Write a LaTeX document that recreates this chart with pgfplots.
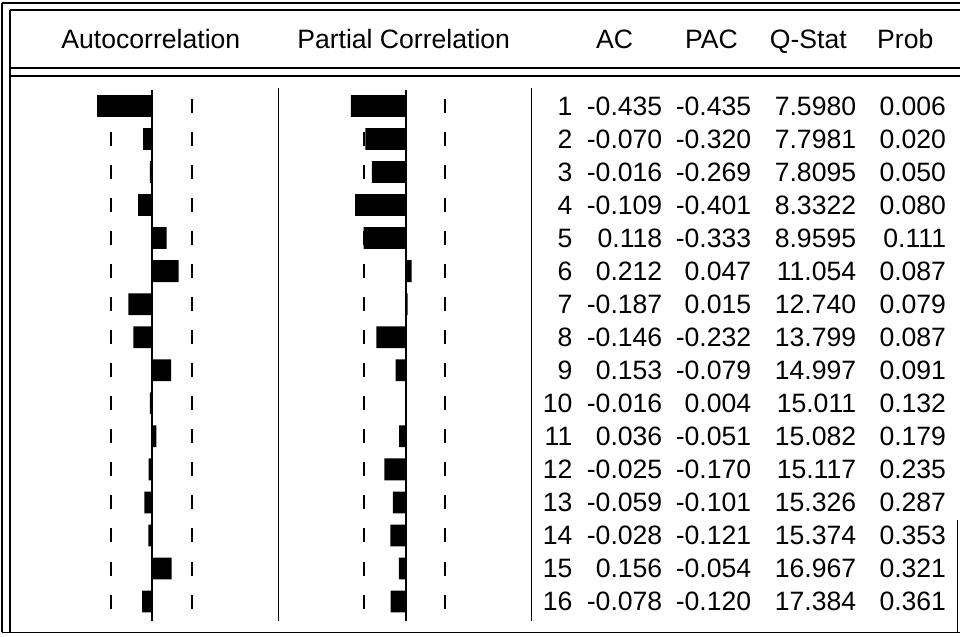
\documentclass[border=0pt]{standalone}
\usepackage{pgfplots}
\pgfplotsset{compat=1.18}
\usepackage{pgfplotstable}
\usepackage{fontspec}
\setmainfont{Liberation Sans}

\pgfplotstableread{
lag ac pac q prob
1 -0.435 -0.435 7.5980 0.006
2 -0.070 -0.320 7.7981 0.020
3 -0.016 -0.269 7.8095 0.050
4 -0.109 -0.401 8.3322 0.080
5 0.118 -0.333 8.9595 0.111
6 0.212 0.047 11.054 0.087
7 -0.187 0.015 12.740 0.079
8 -0.146 -0.232 13.799 0.087
9 0.153 -0.079 14.997 0.091
10 -0.016 0.004 15.011 0.132
11 0.036 -0.051 15.082 0.179
12 -0.025 -0.170 15.117 0.235
13 -0.059 -0.101 15.326 0.287
14 -0.028 -0.121 15.374 0.353
15 0.156 -0.054 16.967 0.321
16 -0.078 -0.120 17.384 0.361
}\corr

\newcommand{\bigfont}{\fontsize{26.6bp}{30bp}\selectfont}

\pgfplotsset{
  panel/.style={scale only axis, width=961bp, height=637bp, hide axis,
    clip=false, y dir=reverse, at={(0,0)}, anchor=south west},
  lagaxis/.style={panel, ymin=-2.2053, ymax=17.0569},
  col/.style={draw=none, mark=none, nodes near coords,
    point meta=explicit symbolic, nodes near coords align={anchor=east},
    every node near coord/.append style={font=\bigfont, inner sep=0pt, text=black}},
  dash/.style={only marks, mark=|, mark size=7bp, mark options={line width=2bp, black}},
  bars/.style={xbar, bar width=0.66, bar shift=0pt, fill=black, draw=none},
}

\begin{document}
\begin{tikzpicture}
% frame and table text (pixel coordinates)
\begin{axis}[panel, xmin=0, xmax=961, ymin=0, ymax=637]
  \fill[white] (axis cs:0,0) rectangle (axis cs:961,637);
  \begin{scope}[line width=1.6bp, black]
    \draw (axis cs:2,3) -- (axis cs:961,3);
    \draw (axis cs:10,10) -- (axis cs:961,10);
    \draw (axis cs:10,68) -- (axis cs:961,68);
    \draw (axis cs:10,76) -- (axis cs:961,76);
    \draw (axis cs:2,3) -- (axis cs:2,633);
    \draw (axis cs:10,10) -- (axis cs:10,633);
    \draw (axis cs:2,633) -- (axis cs:961,633);
    \draw[line width=1.2bp] (axis cs:958,520) -- (axis cs:958,633);
    \draw[line width=1.4bp] (axis cs:279,88) -- (axis cs:279,622);
    \draw[line width=1.4bp] (axis cs:532,88) -- (axis cs:532,622);
  \end{scope}
  \node[font=\bigfont, anchor=base] at (axis cs:151,49) {Autocorrelation};
  \node[font=\bigfont, anchor=base] at (axis cs:404,49) {Partial Correlation};
  \node[font=\bigfont, anchor=base] at (axis cs:615,49) {AC};
  \node[font=\bigfont, anchor=base] at (axis cs:712,49) {PAC};
  \node[font=\bigfont, anchor=base] at (axis cs:809,49) {Q-Stat};
  \node[font=\bigfont, anchor=base] at (axis cs:906,49) {Prob};
  \addplot[col] table[x expr=573, y expr=106+33.07*(\thisrow{lag}-1), meta=lag]{\corr};
  \addplot[col] table[x expr=663, y expr=106+33.07*(\thisrow{lag}-1), meta=ac]{\corr};
  \addplot[col] table[x expr=752, y expr=106+33.07*(\thisrow{lag}-1), meta=pac]{\corr};
  \addplot[col] table[x expr=857, y expr=106+33.07*(\thisrow{lag}-1), meta=q]{\corr};
  \addplot[col] table[x expr=947, y expr=106+33.07*(\thisrow{lag}-1), meta=prob]{\corr};
\end{axis}
% autocorrelation bars
\begin{axis}[lagaxis, xmin=-1.2063, xmax=6.4206]
  \addplot[dash] table[x expr=-0.325, y=lag]{\corr};
  \addplot[dash] table[x expr=0.32, y=lag]{\corr};
  \addplot[bars] table[x=ac, y=lag]{\corr};
  \addplot[line width=2bp, black] coordinates {(0,0.52) (0,16.6)};
\end{axis}
% partial correlation bars
\begin{axis}[lagaxis, xmin=-3.2222, xmax=4.4048]
  \addplot[dash] table[x expr=-0.33, y=lag]{\corr};
  \addplot[dash] table[x expr=0.31, y=lag]{\corr};
  \addplot[bars] table[x=pac, y=lag]{\corr};
  \addplot[line width=2bp, black] coordinates {(0,0.52) (0,16.6)};
\end{axis}
\end{tikzpicture}
\end{document}
